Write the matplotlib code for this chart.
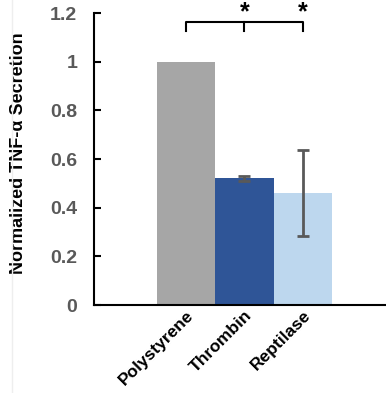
import matplotlib
matplotlib.use("Agg")
from matplotlib import pyplot as plt
from matplotlib.lines import Line2D

plt.rcParams['font.family'] = ['Liberation Sans', 'DejaVu Sans']

categories = ["Polystyrene", "Thrombin", "Reptilase"]
values = [1.0, 0.52, 0.46]
errors = [0.0, 0.012, 0.175]
colors = ["#a6a6a6", "#2f5597", "#bdd7ee"]
yticks = [0, 0.2, 0.4, 0.6, 0.8, 1, 1.2]
ytick_labels = ["0", "0.2", "0.4", "0.6", "0.8", "1", "1.2"]

fig = plt.figure(figsize=(3.86, 3.93), dpi=100)
ax = fig.add_axes([94 / 386, 88 / 393, 292 / 386, 292 / 393])

x = list(range(len(categories)))
ax.bar(x, values, width=1.0, color=colors, zorder=2)
ax.errorbar(x[1:], values[1:], yerr=errors[1:], fmt="none", ecolor="#595959",
            elinewidth=2, capsize=4, capthick=2, zorder=3)

ax.set_xlim(-1.57, 3.42)
ax.set_ylim(0, 1.2)
ax.set_yticks(yticks)
ax.set_yticklabels(ytick_labels, fontsize=14, fontweight="bold", color="#595959")
ax.tick_params(axis="y", direction="in", length=5, width=1.5, pad=12)
ax.set_xticks(x)
ax.set_xticklabels(categories, rotation=45, ha="right", rotation_mode="anchor",
                   fontsize=12.5, fontweight="bold")
ax.tick_params(axis="x", length=0, pad=2)

for s in ["top", "right"]:
    ax.spines[s].set_visible(False)
for s in ["left", "bottom"]:
    ax.spines[s].set_linewidth(1.5)

ax.set_ylabel("Normalized TNF-α Secretion", fontsize=13, fontweight="bold")
ax.yaxis.set_label_coords(-0.23, 0.52)

# significance bracket
yb, yt = 1.125, 1.165
ax.plot([0, 0, 2, 2], [yb, yt, yt, yb], color="black", lw=1.5, clip_on=False)
ax.plot([1, 1], [yb, yt], color="black", lw=1.5, clip_on=False)
for xi in [1, 2]:
    ax.text(xi, yt - 0.01, "*", ha="center", va="bottom", fontsize=18,
            fontweight="bold")

# faint frame line on left of the original image
fig.add_artist(Line2D([12 / 386, 12 / 386], [0, 1], color="#eeeeee", lw=1))

fig.savefig("out.png", dpi=100)
